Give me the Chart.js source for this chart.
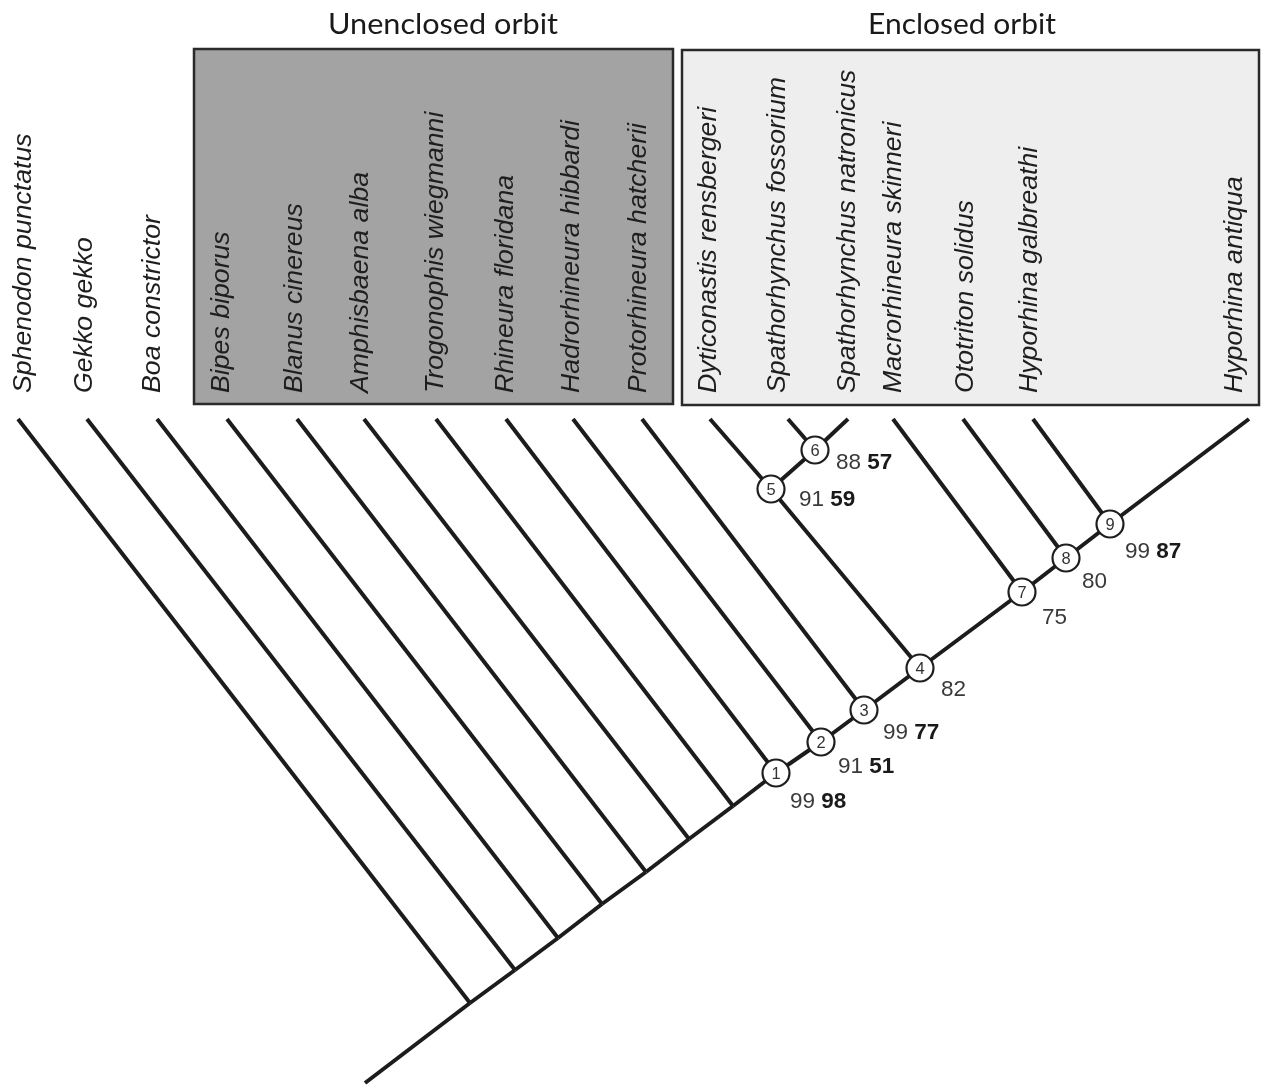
<!DOCTYPE html>
<html>
<head>
<meta charset="utf-8">
<script src="https://cdn.jsdelivr.net/npm/chart.js@4/dist/chart.umd.min.js"></script>
<style>
html,body{margin:0;padding:0;background:#ffffff;}
#wrap{width:1263px;height:1088px;position:relative;}
</style>
</head>
<body>
<div id="wrap"><canvas id="c" width="1263" height="1088"></canvas></div>
<script>
// ================= DATA =================
const taxa = [
  'Sphenodon punctatus','Gekko gekko','Boa constrictor',
  'Bipes biporus','Blanus cinereus','Amphisbaena alba','Trogonophis wiegmanni',
  'Rhineura floridana','Hadrorhineura hibbardi','Protorhineura hatcherii',
  'Dyticonastis rensbergeri','Spathorhynchus fossorium','Spathorhynchus natronicus',
  'Macrorhineura skinneri','Ototriton solidus','Hyporhina galbreathi','Hyporhina antiqua'
];
const groupTitles = ['Unenclosed orbit', 'Enclosed orbit'];
const groupFirstTaxon = [3, 10];
const groupLastTaxon = [9, 16];

// numbered clades and their support values (plain / bold)
const nodeNumbers = [1, 2, 3, 4, 5, 6, 7, 8, 9];
const supportPlain = [99, 91, 99, 82, 91, 88, 75, 80, 99];
const supportBold  = [98, 51, 77, null, 59, 57, null, null, 87];

// topology: parent of each terminal taxon, parent of each internal node
const tipParent = ['a','b','c','d','e','f','g','1','2','3','5','6','6','7','8','9','9'];
const nodeParent = { a:'root', b:'a', c:'b', d:'c', e:'d', f:'e', g:'f',
  '1':'g', '2':'1', '3':'2', '4':'3', '5':'4', '6':'5', '7':'4', '8':'7', '9':'8' };

// ================= LAYOUT (diagram units) =================
const tipX = [18,87,157,227,297,364,436,506,573,642,710,788,848,893,963,1033,1249];
const tipY = 419;
const labelBaseX = [31,92,160,229,302,368,443,513,579,646,716,785,855,901,973,1037,1242];
const labelStartY = 393;
const nodeXY = {
  root:[365,1083], a:[470,1003], b:[515,970], c:[558,938], d:[602,904], e:[646,872],
  f:[689,839], g:[733,806], '1':[776,773], '2':[821,742], '3':[864,710], '4':[920,668],
  '5':[771,489], '6':[815,450], '7':[1022,592], '8':[1066,558], '9':[1110,524]
};
const supportLabelXY = [[790,802],[838,767],[883,733],[941,690],[799,500],[836,463],[1042,618],[1082,582],[1125,552]];
const boxX0 = [194, 682], boxX1 = [673, 1259], boxY0 = [49, 50], boxY1 = [404, 405];
const boxFill = ['#a3a3a3', '#eeeeee'];
const titleCX = [443, 962], titleBaseY = 34, titleWidth = [230, 188];

// ================= BUILD DATASETS =================
const LINE = '#1c1c1c';
const datasets = [];
// numbered node circles (on top)
datasets.push({
  label: 'nodes',
  data: nodeNumbers.map(n => ({ x: nodeXY[String(n)][0], y: nodeXY[String(n)][1] })),
  pointRadius: 13.5, pointHoverRadius: 13.5, pointBorderWidth: 2.2,
  pointBackgroundColor: '#ffffff', pointBorderColor: '#1e1e1e',
  showLine: false, order: 0
});
function edge(p, q) {
  datasets.push({
    data: [{ x: p[0], y: p[1] }, { x: q[0], y: q[1] }],
    showLine: true, borderColor: LINE, borderWidth: 4, pointRadius: 0,
    pointHoverRadius: 0, fill: false, order: 1, borderCapStyle: 'butt'
  });
}
Object.keys(nodeParent).forEach(k => edge(nodeXY[nodeParent[k]], nodeXY[k]));
taxa.forEach((t, i) => edge(nodeXY[tipParent[i]], [tipX[i], tipY]));

// ================= PLUGINS =================
const decor = {
  id: 'decor',
  beforeDatasetsDraw(chart) {
    const { ctx, scales: { x, y } } = chart;
    ctx.save();
    for (let g = 0; g < groupTitles.length; g++) {
      const L = x.getPixelForValue(boxX0[g]), R = x.getPixelForValue(boxX1[g]);
      const T = y.getPixelForValue(boxY0[g]), B = y.getPixelForValue(boxY1[g]);
      ctx.fillStyle = boxFill[g];
      ctx.fillRect(L, T, R - L, B - T);
      ctx.lineWidth = 2.5;
      ctx.strokeStyle = '#2a2a2a';
      ctx.strokeRect(L, T, R - L, B - T);
      // title
      ctx.font = '28px Lato, "Open Sans", sans-serif';
      ctx.fillStyle = '#1a1a1a';
      const w = ctx.measureText(groupTitles[g]).width;
      const s = titleWidth[g] / w;
      ctx.save();
      ctx.translate(x.getPixelForValue(titleCX[g]), y.getPixelForValue(titleBaseY));
      ctx.scale(s, 1);
      ctx.textAlign = 'center';
      ctx.textBaseline = 'alphabetic';
      ctx.fillText(groupTitles[g], 0, 0);
      ctx.restore();
    }
    ctx.restore();
  },
  afterDatasetsDraw(chart) {
    const { ctx, scales: { x, y } } = chart;
    ctx.save();
    // taxon labels, rotated
    ctx.font = 'italic 26.7px "Liberation Sans", Arial, sans-serif';
    ctx.fillStyle = '#1e1e1e';
    ctx.textAlign = 'left';
    ctx.textBaseline = 'alphabetic';
    taxa.forEach((t, i) => {
      ctx.save();
      ctx.translate(x.getPixelForValue(labelBaseX[i]), y.getPixelForValue(labelStartY));
      ctx.rotate(-Math.PI / 2);
      ctx.fillText(t, 0, 0);
      ctx.restore();
    });
    // node numbers
    ctx.font = '16.5px "Liberation Sans", Arial, sans-serif';
    ctx.fillStyle = '#333333';
    ctx.textAlign = 'center';
    ctx.textBaseline = 'middle';
    nodeNumbers.forEach(n => {
      const p = nodeXY[String(n)];
      ctx.fillText(String(n), x.getPixelForValue(p[0]), y.getPixelForValue(p[1]) + 1);
    });
    // support values
    ctx.textAlign = 'left';
    ctx.textBaseline = 'middle';
    nodeNumbers.forEach((n, i) => {
      const px = x.getPixelForValue(supportLabelXY[i][0]);
      const py = y.getPixelForValue(supportLabelXY[i][1]);
      ctx.font = '22.5px "Liberation Sans", Arial, sans-serif';
      ctx.fillStyle = '#3a3a3a';
      const a = String(supportPlain[i]);
      ctx.fillText(a, px, py);
      if (supportBold[i] !== null) {
        const w = ctx.measureText(a + ' ').width;
        ctx.font = 'bold 22.5px "Liberation Sans", Arial, sans-serif';
        ctx.fillStyle = '#1a1a1a';
        ctx.fillText(String(supportBold[i]), px + w, py);
      }
    });
    ctx.restore();
  }
};

new Chart(document.getElementById('c'), {
  type: 'scatter',
  data: { datasets },
  options: {
    responsive: false,
    animation: false,
    events: [],
    layout: { padding: 0, autoPadding: false },
    plugins: { legend: { display: false }, tooltip: { enabled: false } },
    scales: {
      x: { type: 'linear', min: 0, max: 1263, display: false },
      y: { type: 'linear', min: 0, max: 1088, reverse: true, display: false }
    }
  },
  plugins: [decor]
});
</script>
</body>
</html>
